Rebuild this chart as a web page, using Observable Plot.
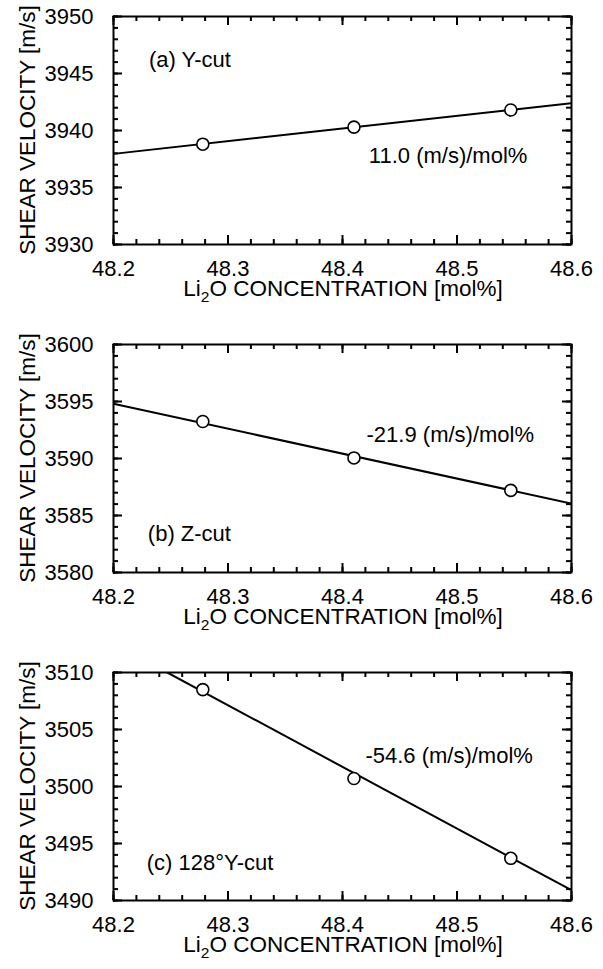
<!DOCTYPE html>
<html><head><meta charset="utf-8">
<script src="https://cdn.jsdelivr.net/npm/d3@7"></script>
<script src="https://cdn.jsdelivr.net/npm/@observablehq/plot@0.6"></script>
<style>
body{margin:0;background:#fff;overflow:hidden}
#chart{width:603px}
#chart svg{display:block}
</style>
</head><body><div id="chart"></div>
<script>
// ---- data ----
const concentration = [48.278, 48.41, 48.547];          // Li2O mol%
const velocityA = [3938.8, 3940.3, 3941.8];             // (a) Y-cut
const velocityB = [3593.25, 3590.05, 3587.2];           // (b) Z-cut
const velocityC = [3508.5, 3500.7, 3493.7];             // (c) 128°Y-cut
const fitConcA = [48.2, 48.6];   const fitVelA = [3937.95, 3942.4];
const fitConcB = [48.2, 48.6];   const fitVelB = [3594.8, 3586.05];
const fitConcC = [48.247, 48.6]; const fitVelC = [3510, 3490.9];
const xTicks = [48.2, 48.3, 48.4, 48.5, 48.6];
const yTicksA = [3930, 3935, 3940, 3945, 3950];
const yTicksB = [3580, 3585, 3590, 3595, 3600];
const yTicksC = [3490, 3495, 3500, 3505, 3510];
const panelNames = ["(a) Y-cut", "(b) Z-cut", "(c) 128°Y-cut"];
const slopeTexts = ["11.0 (m/s)/mol%", "-21.9 (m/s)/mol%", "-54.6 (m/s)/mol%"];
const yTitle = "SHEAR VELOCITY [m/s]";
const xTitleParts = ["Li", "2", "O CONCENTRATION [mol%]"];

const FONT = "'Liberation Sans', Arial, Helvetica, sans-serif";

function panel(cfg) {
  const mt = 16, ih = 228, ml = 113, mr = 32, iw = 458;
  const mb = cfg.height - mt - ih;
  const [y0, y1] = [cfg.yTicks[0], cfg.yTicks[cfg.yTicks.length - 1]];
  const yMinor = d3.range(y0, y1 + 0.5, 1);
  const xMinor = d3.range(0, 21).map(i => 48.2 + i * 0.02);
  const pts = concentration.map((c, i) => ({c, v: cfg.vel[i]}));
  const fit = cfg.fitX.map((c, i) => ({c, v: cfg.fitY[i]}));
  const plot = Plot.plot({
    width: 603, height: cfg.height,
    marginTop: mt, marginBottom: mb, marginLeft: ml, marginRight: mr,
    style: {fontFamily: FONT, fontSize: "22px", background: "#fff", color: "#000", overflow: "visible"},
    x: {domain: [48.2, 48.6]},
    y: {domain: [y0, y1]},
    marks: [
      Plot.axisX(xTicks, {tickSize: 0, tickPadding: 15.5, tickFormat: d3.format(".1f"), label: null, fontSize: 22}),
      Plot.axisY(cfg.yTicks, {tickSize: 0, tickPadding: 20, tickFormat: d3.format("d"), label: null, fontSize: 22}),
      // inward minor ticks
      Plot.tickX(xMinor, {x: d => d, insetTop: ih - 5, strokeWidth: 2}),
      Plot.tickX(xMinor, {x: d => d, insetBottom: ih - 5, strokeWidth: 2}),
      Plot.tickY(yMinor, {y: d => d, insetRight: iw - 5, strokeWidth: 2}),
      Plot.tickY(yMinor, {y: d => d, insetLeft: iw - 5, strokeWidth: 2}),
      // inward major ticks
      Plot.tickX(xTicks, {x: d => d, insetTop: ih - 9, strokeWidth: 2}),
      Plot.tickX(xTicks, {x: d => d, insetBottom: ih - 9, strokeWidth: 2}),
      Plot.tickY(cfg.yTicks, {y: d => d, insetRight: iw - 9, strokeWidth: 2}),
      Plot.tickY(cfg.yTicks, {y: d => d, insetLeft: iw - 9, strokeWidth: 2}),
      Plot.frame({stroke: "#000", strokeWidth: 2}),
      Plot.line(fit, {x: "c", y: "v", stroke: "#000", strokeWidth: 2, clip: true}),
      Plot.dot(pts, {x: "c", y: "v", r: 6, fill: "#fff", stroke: "#000", strokeWidth: 1.6}),
      Plot.text([cfg.name], {x: cfg.namePos[0], y: cfg.namePos[1], textAnchor: "start", fontSize: 22}),
      Plot.text([cfg.slope], {x: cfg.slopePos[0], y: cfg.slopePos[1], textAnchor: "start", fontSize: 22})
    ]
  });
  const s = d3.select(plot);
  const t = s.append("text")
    .attr("x", ml + iw / 2 + 1).attr("y", mt + ih + 52)
    .attr("text-anchor", "middle").attr("font-size", 22.5).attr("font-family", FONT).attr("fill", "#000");
  t.append("tspan").text(xTitleParts[0]);
  t.append("tspan").attr("font-size", 15.5).attr("dy", 6).text(xTitleParts[1]);
  t.append("tspan").attr("dy", -6).text(xTitleParts[2]);
  s.append("text")
    .attr("transform", `translate(35,${mt + ih / 2}) rotate(-90)`)
    .attr("text-anchor", "middle").attr("font-size", 22.5).attr("font-family", FONT).attr("fill", "#000")
    .text(yTitle);
  return plot;
}

const root = document.getElementById("chart");
root.append(panel({height: 328, vel: velocityA, fitX: fitConcA, fitY: fitVelA, yTicks: yTicksA,
  name: panelNames[0], namePos: [48.231, 3946.15], slope: slopeTexts[0], slopePos: [48.423, 3937.8]}));
root.append(panel({height: 328, vel: velocityB, fitX: fitConcB, fitY: fitVelB, yTicks: yTicksB,
  name: panelNames[1], namePos: [48.23, 3583.4], slope: slopeTexts[1], slopePos: [48.421, 3592.1]}));
root.append(panel({height: 313, vel: velocityC, fitX: fitConcC, fitY: fitVelC, yTicks: yTicksC,
  name: panelNames[2], namePos: [48.229, 3493.3], slope: slopeTexts[2], slopePos: [48.42, 3502.7]}));
</script>
</body></html>
